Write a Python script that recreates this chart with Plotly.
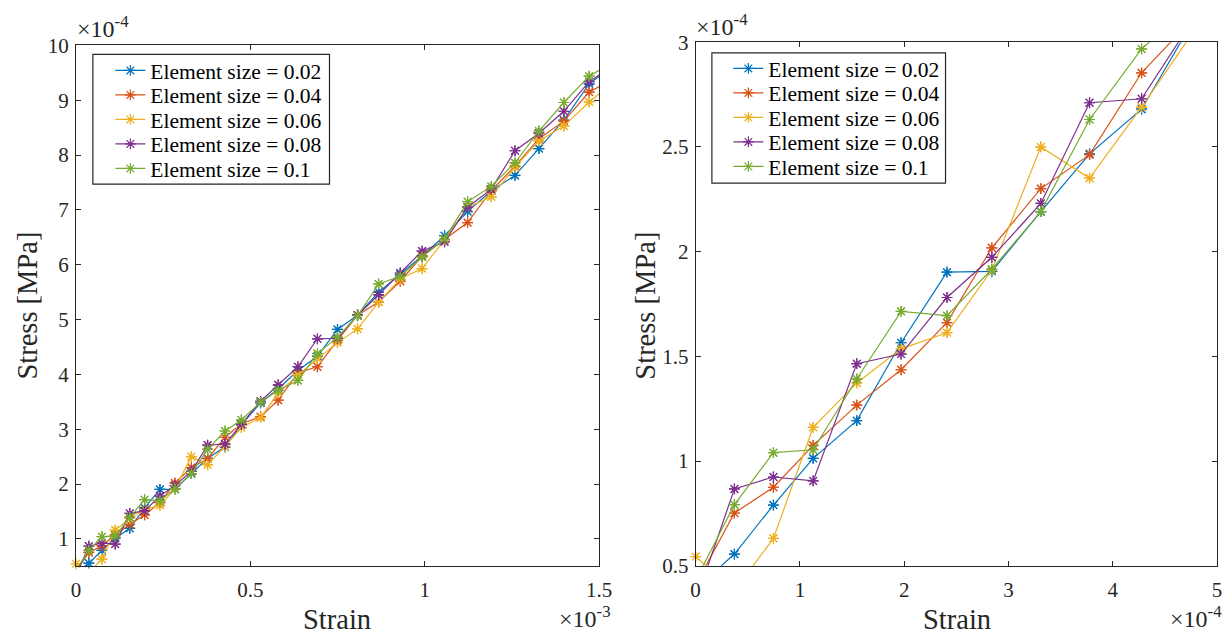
import plotly.graph_objects as go

# ---- data (strain in units of 1e-3, stress in units of 1e-4 MPa) ----
strain_e3 = [0.0, 0.0372, 0.0746, 0.1127, 0.1545, 0.1970, 0.2410, 0.2840, 0.3310,
             0.3777, 0.4276, 0.4745, 0.5295, 0.5800, 0.6365, 0.6925, 0.7500, 0.8075,
             0.8680, 0.9300, 0.9925, 1.0570, 1.1230, 1.1910, 1.2590, 1.3275, 1.3990,
             1.4715, 1.5450]

stress_002 = [0.39, 0.556, 0.790, 1.013, 1.193, 1.565, 1.902, 1.906, 2.191, 2.467,
              2.680, 3.08, 3.48, 3.74, 4.07, 4.33, 4.82, 5.08, 5.50, 5.82, 6.16,
              6.53, 6.97, 7.35, 7.63, 8.12, 8.64, 9.30, 9.65]
stress_004 = [0.41, 0.752, 0.875, 1.075, 1.267, 1.436, 1.661, 2.018, 2.301, 2.463,
              2.854, 3.10, 3.23, 3.53, 4.03, 4.14, 4.62, 5.08, 5.32, 5.70, 6.16,
              6.46, 6.77, 7.35, 7.80, 8.30, 8.62, 9.15, 9.40]
stress_006 = [0.544, 0.38, 0.631, 1.161, 1.373, 1.536, 1.613, 1.912, 2.500, 2.351,
              2.69, 3.03, 3.21, 3.66, 3.99, 4.29, 4.58, 4.83, 5.32, 5.74, 5.93,
              6.46, 7.05, 7.24, 7.78, 8.26, 8.53, 8.97, 9.35]
stress_008 = [0.33, 0.867, 0.924, 0.905, 1.465, 1.511, 1.781, 1.973, 2.230, 2.711,
              2.730, 3.09, 3.51, 3.81, 4.14, 4.65, 4.66, 5.08, 5.45, 5.85, 6.25,
              6.42, 7.05, 7.38, 8.08, 8.40, 8.80, 9.34, 9.65]
stress_010 = [0.43, 0.792, 1.040, 1.054, 1.392, 1.715, 1.694, 1.916, 2.191, 2.631,
              2.968, 3.17, 3.49, 3.71, 3.89, 4.38, 4.68, 5.07, 5.65, 5.79, 6.14,
              6.47, 7.15, 7.43, 7.86, 8.44, 8.96, 9.44, 9.72]

series_names = ["Element size = 0.02", "Element size = 0.04", "Element size = 0.06",
                "Element size = 0.08", "Element size = 0.1"]
series_values = [stress_002, stress_004, stress_006, stress_008, stress_010]
colors = ["#0072BD", "#D95319", "#EDB120", "#7E2F8E", "#77AC30"]

left_xticks = [0, 0.5, 1, 1.5]
left_xticklabels = ["0", "0.5", "1", "1.5"]
left_yticks = [1, 2, 3, 4, 5, 6, 7, 8, 9, 10]
right_xticks = [0, 1, 2, 3, 4, 5]
right_yticks = [0.5, 1, 1.5, 2, 2.5, 3]
right_yticklabels = ["0.5", "1", "1.5", "2", "2.5", "3"]

left_xrange, left_yrange = [0, 1.5], [0.5, 10]
right_xrange, right_yrange = [0, 5], [0.5, 3]

# ---- layout helpers: target picture pixel -> paper fraction ----
# (the captured picture maps figure pixels as  px = 5 + 0.987*x,  py = 10.4 + 0.966*y)
W, H = 1238, 646
OX, SX, OY, SY = 5.0, 0.987, 10.4, 0.966
def clamp(v):
    return max(0.0, min(1.0, v))
def fx(p):
    return clamp(((p - OX) / SX) / W)
def fy(p):
    return clamp(1 - ((p - OY) / SY) / H)

FONT = "Liberation Serif"
TXT = "#262626"

# legend geometry per subplot: box (x0, y0, x1, y1), text start x, first row centre, row step
legend_boxes = [(93, 53, 330, 183, 152, 69.0, 24.6),
                (713, 51.5, 947, 182, 771, 67.0, 24.6)]

fig = go.Figure()
strain_e4 = [v * 10 for v in strain_e3]
legend_layout = {}
subplots = [(strain_e3, "x", "y", left_xrange, left_yrange),
            (strain_e4, "x2", "y2", right_xrange, right_yrange)]
for s, (xs, xa, ya, xr, yr) in enumerate(subplots):
    bx0, by0, bx1, by1, tx, r0, step = legend_boxes[s]
    for i, (name, vals, c) in enumerate(zip(series_names, series_values, colors)):
        n = 1 + s * 5 + i
        key = "legend" if n == 1 else f"legend{n}"
        marker = dict(symbol="asterisk-open", size=9, color=c,
                      line=dict(color=c, width=1.2))
        fig.add_trace(go.Scatter(
            x=xs, y=vals, xaxis=xa, yaxis=ya, legend=key,
            mode="lines+markers", name=name,
            line=dict(color=c, width=1.2), marker=marker))
        # markers lying inside the axes box drawn unclipped (so edge markers show fully)
        inside = [(xv, yv) for xv, yv in zip(xs, vals)
                  if xr[0] <= xv <= xr[1] and yr[0] <= yv <= yr[1]]
        fig.add_trace(go.Scatter(
            x=[p[0] for p in inside], y=[p[1] for p in inside], xaxis=xa, yaxis=ya,
            mode="markers", marker=marker, cliponaxis=False, showlegend=False,
            hoverinfo="skip"))
        legend_layout[key] = dict(
            x=fx(tx - 41.5), y=fy(r0 + i * step), xanchor="left", yanchor="middle",
            bgcolor="rgba(0,0,0,0)", borderwidth=0,
            font=dict(family=FONT, size=21.5, color="black"))

axis_common = dict(showline=True, linecolor=TXT, linewidth=1, mirror="ticks",
                   ticks="inside", ticklen=5, tickcolor=TXT, tickwidth=1,
                   showgrid=False, zeroline=False,
                   tickfont=dict(family=FONT, size=21, color=TXT))

fig.update_layout(
    width=W, height=H,
    margin=dict(l=0, r=0, t=0, b=0),
    paper_bgcolor="white", plot_bgcolor="white",
    xaxis=dict(domain=[fx(76), fx(600)], range=left_xrange,
               tickvals=left_xticks, ticktext=left_xticklabels, anchor="y",
               ticklabelstandoff=5, **axis_common),
    yaxis=dict(domain=[fy(566.5), fy(44)], range=left_yrange,
               tickvals=left_yticks, anchor="x", ticklabelstandoff=2, **axis_common),
    xaxis2=dict(domain=[fx(696.7), fx(1219)], range=right_xrange,
                tickvals=right_xticks, anchor="y2", ticklabelstandoff=5, **axis_common),
    yaxis2=dict(domain=[fy(566), fy(40.7)], range=right_yrange,
                tickvals=right_yticks, ticktext=right_yticklabels, anchor="x2",
                ticklabelstandoff=2, **axis_common),
    showlegend=True,
    **legend_layout,
)

shapes = []
for bx0, by0, bx1, by1, tx, r0, step in legend_boxes:
    shapes.append(dict(type="rect", xref="paper", yref="paper",
                       x0=fx(bx0), x1=fx(bx1), y0=fy(by1), y1=fy(by0),
                       fillcolor="white", line=dict(color=TXT, width=1.2),
                       layer="above"))
fig.update_layout(shapes=shapes)

ann = []
# axis titles
for txt, x, y, ang in [("Strain", 338, 620, 0), ("Strain", 958, 620, 0),
                       ("Stress [MPa]", 28, 305, -90), ("Stress [MPa]", 647, 305, -90)]:
    ann.append(dict(text=txt, x=fx(x), y=fy(y), xref="paper", yref="paper",
                    xanchor="center", yanchor="middle", showarrow=False, textangle=ang,
                    font=dict(family=FONT, size=28.5, color=TXT)))
# exponent labels
for txt, x, y, xa, ya in [
    ("×10<sup>-4</sup>", 75, 43, "left", "bottom"),
    ("×10<sup>-4</sup>", 695, 40, "left", "bottom"),
    ("×10<sup>-3</sup>", 614, 634, "right", "bottom"),
    ("×10<sup>-4</sup>", 1226, 634, "right", "bottom"),
]:
    ann.append(dict(text=txt, x=fx(x), y=fy(y), xref="paper", yref="paper",
                    xanchor=xa, yanchor=ya, showarrow=False,
                    font=dict(family=FONT, size=24, color=TXT)))
fig.update_layout(annotations=ann)

fig.write_html("out.html")
